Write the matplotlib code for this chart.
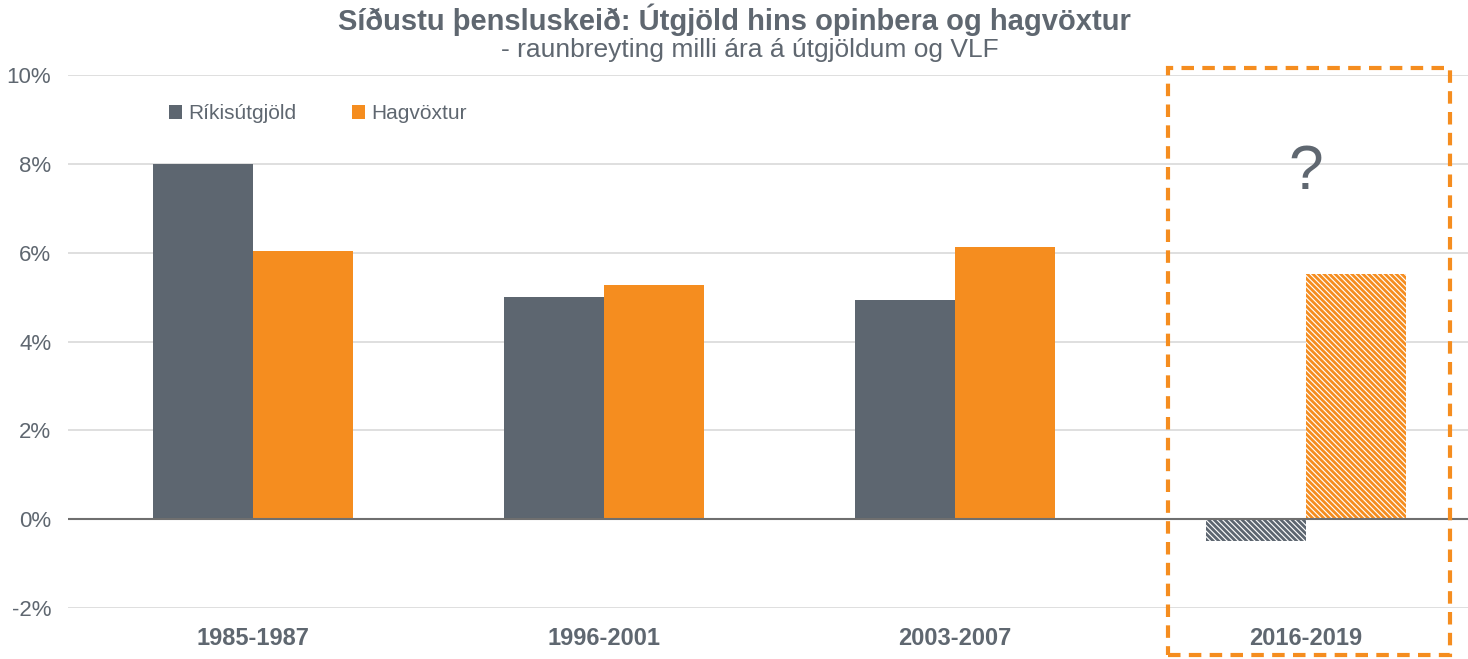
import matplotlib
matplotlib.use("Agg")
import matplotlib.pyplot as plt
from matplotlib.patches import Rectangle
import numpy as np

plt.rcParams['font.family'] = ['Liberation Sans', 'DejaVu Sans']
plt.rcParams['hatch.linewidth'] = 2.0

categories = ["1985-1987", "1996-2001", "2003-2007", "2016-2019"]
rikis = [8.0, 5.0, 4.93, -0.5]
hag = [6.04, 5.27, 6.13, 5.52]
series_names = ["Ríkisútgjöld", "Hagvöxtur"]
yticks = [-2, 0, 2, 4, 6, 8, 10]

GRAY = "#5D6670"
ORANGE = "#F58D1F"
TXT = "#5F6770"

fig = plt.figure(figsize=(14.68, 6.59), dpi=100)
ax = fig.add_axes([68/1468, (659-608)/659, 1 - 68/1468, (608-75)/659])

x = np.arange(len(categories))
w = 0.285
n = len(categories)
for i in range(n):
    hatched = (i == n - 1)
    if hatched:
        ax.bar(x[i] - w/2, rikis[i], w, facecolor="white", edgecolor=GRAY, hatch="\\" * 6, linewidth=0, zorder=3)
        ax.bar(x[i] + w/2, hag[i], w, facecolor="white", edgecolor=ORANGE, hatch="\\" * 6, linewidth=0, zorder=3)
    else:
        ax.bar(x[i] - w/2, rikis[i], w, color=GRAY, linewidth=0, zorder=3, label=series_names[0] if i == 0 else None)
        ax.bar(x[i] + w/2, hag[i], w, color=ORANGE, linewidth=0, zorder=3, label=series_names[1] if i == 0 else None)

ax.set_xlim((68-253)/351, (1468-253)/351)
ax.set_ylim(-2, 10)
ax.set_yticks(yticks)
ax.set_yticklabels([f"{v}%" for v in yticks], fontsize=16, color=TXT)
ax.set_xticks(x)
ax.set_xticklabels(categories, fontsize=17, fontweight="bold", color=TXT)
ax.tick_params(axis='both', length=0)
ax.tick_params(axis='x', pad=14)
ax.tick_params(axis='y', pad=12)
for s in ax.spines.values():
    s.set_visible(False)
ax.yaxis.grid(True, color="#D9D9D9", linewidth=1.2, zorder=0)
ax.set_axisbelow(True)
ax.axhline(0, color="#6F6F6F", linewidth=1.5, zorder=4)

leg = ax.legend(loc="upper left", bbox_to_anchor=(0.059, 0.98), ncol=2, frameon=False,
                fontsize=15, handlelength=0.6, handleheight=0.6, handletextpad=0.3,
                columnspacing=2.7)
for t in leg.get_texts():
    t.set_color(TXT)

ax.text(x[-1], 7.8, "?", fontsize=45, color=TXT, ha="center", va="center")

# dashed highlight box in figure pixels
box = Rectangle((1168/1468, (659-655)/659), (1450-1168)/1468, (655-68)/659,
                transform=fig.transFigure, fill=False, edgecolor=ORANGE,
                linewidth=3, linestyle=(0, (3, 2)), zorder=10)
fig.patches.append(box)

fig.text(734/1468, 1 - 20/659, "Síðustu þensluskeið: Útgjöld hins opinbera og hagvöxtur",
         ha="center", va="center", fontsize=21, fontweight="bold", color=TXT)
fig.text(750/1468, 1 - 50/659, "- raunbreyting milli ára á útgjöldum og VLF",
         ha="center", va="center", fontsize=19, color=TXT)

fig.savefig("out.png", dpi=100)
